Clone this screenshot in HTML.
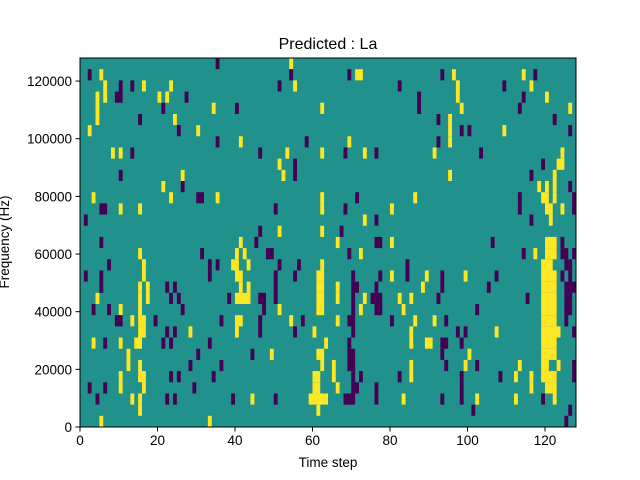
<!DOCTYPE html>
<html><head><meta charset="utf-8"><style>
body{margin:0;background:#fff;}
svg{display:block;font-family:"Liberation Sans","DejaVu Sans",sans-serif;}
</style></head><body>
<svg id="chart" width="640" height="480" viewBox="0 0 640 480">
<rect width="640" height="480" fill="#fff"/>
<g id="cells"></g>
<rect x="80" y="58" width="496" height="369" fill="none" stroke="#000" stroke-width="1"/>
<g id="axes"></g>
<text x="328" y="49" text-anchor="middle" font-size="16">Predicted : La</text>
<text x="328" y="467" text-anchor="middle" font-size="13.5">Time step</text>
<text transform="translate(9,242) rotate(-90)" text-anchor="middle" font-size="13.5">Frequency (Hz)</text>
</svg>
<script>
const nTime = 128;
const nBins = 33;
const fMax = 128000;
const xTicks = [0,20,40,60,80,100,120];
const yTicks = [0,20000,40000,60000,80000,100000,120000];
// [freqBin, tStart, tEnd]
const yellowRuns = [
[32,54,54],[31,5,5],[30,6,6],[30,16,16],[30,23,23],[30,55,55],[29,4,4],[29,6,6],[29,20,20],[29,22,22],
[28,4,4],[28,34,34],[28,62,62],[27,4,4],[27,24,24],[26,2,2],[26,30,30],[25,41,41],[24,8,8],[24,10,10],[24,53,53],[24,62,62],
[23,51,51],[22,26,26],[22,52,52],[21,21,21],[20,3,3],[20,23,23],[20,35,35],[20,62,62],[19,10,10],[19,15,15],[19,62,62],
[17,51,51],[17,62,62],
[31,71,72],[31,96,96],[31,114,114],[30,97,97],[30,116,116],[29,97,97],[29,120,120],[28,98,98],[28,126,126],[27,95,95],
[26,95,95],[26,109,109],[25,69,69],[25,95,95],[24,73,73],[24,91,91],[24,124,124],[23,123,124],[22,95,95],[22,122,122],
[21,118,118],[21,120,120],[21,122,122],[20,86,86],[20,119,120],[20,122,122],[19,80,80],[19,120,121],[19,124,124],[18,73,73],[18,121,121],
[16,41,41],[15,15,15],[15,40,40],[15,42,42],[14,16,16],[14,39,40],[14,43,43],[14,62,62],[13,16,16],[13,40,41],[13,61,62],
[12,15,15],[12,17,17],[12,41,41],[12,43,43],[12,61,62],[11,4,4],[11,15,15],[11,17,17],[11,40,43],[11,61,62],
[10,10,10],[10,15,15],[10,51,51],[10,61,62],[9,13,13],[9,15,16],[9,40,41],[9,54,54],[8,15,16],[8,28,28],[8,40,40],[8,60,60],
[7,3,3],[7,10,10],[7,14,15],[7,63,63],[6,12,12],[6,49,49],[6,61,62],[5,12,12],[5,15,15],[5,62,62],[4,10,10],[4,15,16],[4,60,61],
[3,10,10],[3,16,16],[3,60,61],[2,13,13],[2,15,15],[2,44,44],[2,59,63],[1,15,15],[1,61,61],[0,5,5],[0,33,33],
[16,66,66],[16,80,80],[16,120,122],[15,72,72],[15,117,117],[15,120,122],[14,119,121],[13,80,80],[13,89,89],[13,99,99],[13,119,122],
[12,66,66],[12,88,88],[12,119,122],[11,66,66],[11,73,73],[11,82,82],[11,85,85],[11,119,122],[10,72,72],[10,83,83],[10,119,122],
[9,66,66],[9,86,86],[9,91,91],[9,119,122],[8,85,85],[8,107,107],[8,119,123],[7,85,85],[7,89,90],[7,119,122],[6,100,100],[6,119,122],
[5,65,65],[5,85,85],[5,99,99],[5,113,113],[5,119,120],[5,123,123],[4,65,65],[4,85,85],[4,112,112],[4,116,116],[4,119,122],
[3,66,66],[3,116,116],[3,120,122],[2,83,83],[2,102,102],[2,112,112],[2,122,122]
];
const purpleRuns = [
[32,35,35],[31,2,2],[31,54,54],[30,10,10],[30,13,13],[30,51,51],[29,9,10],[29,27,27],[28,21,21],[28,40,40],[27,15,15],[26,25,25],
[25,35,35],[25,58,58],[24,13,13],[24,46,46],[23,55,55],[22,10,10],[22,55,55],[21,26,26],[20,30,31],[19,5,6],[19,50,50],[18,1,1],[17,46,46],
[31,69,69],[31,93,93],[31,117,117],[30,82,82],[30,109,109],[29,87,87],[29,114,114],[28,87,87],[28,113,113],[27,92,92],[27,122,122],
[26,98,98],[26,100,100],[26,126,126],[25,92,92],[24,68,68],[24,76,76],[24,103,103],[23,119,119],[22,116,116],[21,126,126],
[20,71,71],[20,113,113],[20,127,127],[19,68,68],[19,113,113],[19,127,127],[18,76,76],[18,116,116],[17,67,67],
[16,5,5],[16,45,45],[15,31,31],[15,48,49],[14,7,7],[14,33,33],[14,35,35],[14,51,51],[14,56,56],[13,1,1],[13,5,5],[13,33,33],[13,50,50],[13,55,55],
[12,5,5],[12,22,22],[12,24,24],[12,50,50],[11,23,23],[11,25,25],[11,38,38],[11,46,47],[11,50,50],[10,3,3],[10,7,7],[10,26,26],[10,47,47],
[9,9,10],[9,19,19],[9,36,36],[9,46,46],[9,57,57],[8,22,22],[8,24,24],[8,46,46],[8,55,55],[7,6,6],[7,21,21],[7,23,23],[7,33,33],
[6,30,30],[6,44,44],[5,28,28],[5,36,36],[4,23,23],[4,25,25],[4,34,34],[3,2,2],[3,6,6],[3,29,29],[2,4,4],[2,22,22],[2,24,24],[2,39,39],[2,50,50],
[16,76,77],[16,106,106],[16,124,124],[15,69,69],[15,114,114],[15,124,125],[15,127,127],[14,84,84],[14,125,126],
[13,70,70],[13,77,77],[13,84,84],[13,93,93],[13,107,107],[13,124,124],[13,126,126],[12,70,71],[12,76,76],[12,93,93],[12,105,105],[12,125,127],
[11,70,70],[11,75,77],[11,92,92],[11,115,115],[11,125,126],[10,70,70],[10,76,77],[10,102,102],[10,125,126],[9,69,70],[9,80,80],[9,94,94],[9,125,125],
[8,70,70],[8,97,97],[8,99,99],[8,127,127],[7,69,69],[7,93,94],[7,98,98],[6,69,70],[6,93,93],[5,69,70],[5,94,94],[5,102,102],[5,127,127],
[4,70,70],[4,72,72],[4,82,82],[4,98,98],[4,108,108],[4,127,127],[3,70,71],[3,76,76],[3,98,98],[2,68,70],[2,76,76],[2,93,93],[2,98,98],[2,119,119],
[1,101,101],[1,126,126],[0,125,125]
];
const X0=80,X1=576,Y0=427,Y1=58;
function xs(t){return X0+(t/nTime)*(X1-X0);}
function ys(f){return Y0-(f/fMax)*(Y0-Y1);}
const NS="http://www.w3.org/2000/svg";
const cells=document.getElementById('cells');
const bg=document.createElementNS(NS,'rect');
bg.setAttribute('x',X0);bg.setAttribute('y',Y1);bg.setAttribute('width',X1-X0);bg.setAttribute('height',Y0-Y1);bg.setAttribute('fill','#21918c');


cells.appendChild(bg);
const binW=fMax/nBins;
function drawRuns(runs,color,name){
  runs.forEach(function(r){
    const k=r[0],t0=r[1],t1=r[2];
    const el=document.createElementNS(NS,'rect');
    const x=xs(t0),x2=xs(t1+1),yTop=ys((k+1)*binW),yBot=ys(k*binW);
    el.setAttribute('x',x.toFixed(2));el.setAttribute('width',(x2-x).toFixed(2));
    el.setAttribute('y',yTop.toFixed(2));el.setAttribute('height',(yBot-yTop).toFixed(2));
    el.setAttribute('fill',color);
    
    
    cells.appendChild(el);
  });
}
drawRuns(yellowRuns,'#fde725','heatmap-cell-high');
drawRuns(purpleRuns,'#440154','heatmap-cell-low');
const axes=document.getElementById('axes');
xTicks.forEach(function(t){
  const x=xs(t);
  const l=document.createElementNS(NS,'line');
  l.setAttribute('x1',x);l.setAttribute('x2',x);l.setAttribute('y1',Y0);l.setAttribute('y2',Y0+4.5);l.setAttribute('stroke','#000');
  
  
  axes.appendChild(l);
  const tx=document.createElementNS(NS,'text');
  tx.setAttribute('x',x);tx.setAttribute('y',Y0+18);tx.setAttribute('text-anchor','middle');tx.setAttribute('font-size','13.5');
  tx.textContent=t;
  
  
  axes.appendChild(tx);
});
yTicks.forEach(function(v){
  const y=ys(v);
  const l=document.createElementNS(NS,'line');
  l.setAttribute('x1',X0-4.5);l.setAttribute('x2',X0);l.setAttribute('y1',y);l.setAttribute('y2',y);l.setAttribute('stroke','#000');
  
  
  axes.appendChild(l);
  const tx=document.createElementNS(NS,'text');
  tx.setAttribute('x',X0-8);tx.setAttribute('y',y+5);tx.setAttribute('text-anchor','end');tx.setAttribute('font-size','13.5');
  tx.textContent=v;
  
  
  axes.appendChild(tx);
});
</script>
</body></html>
